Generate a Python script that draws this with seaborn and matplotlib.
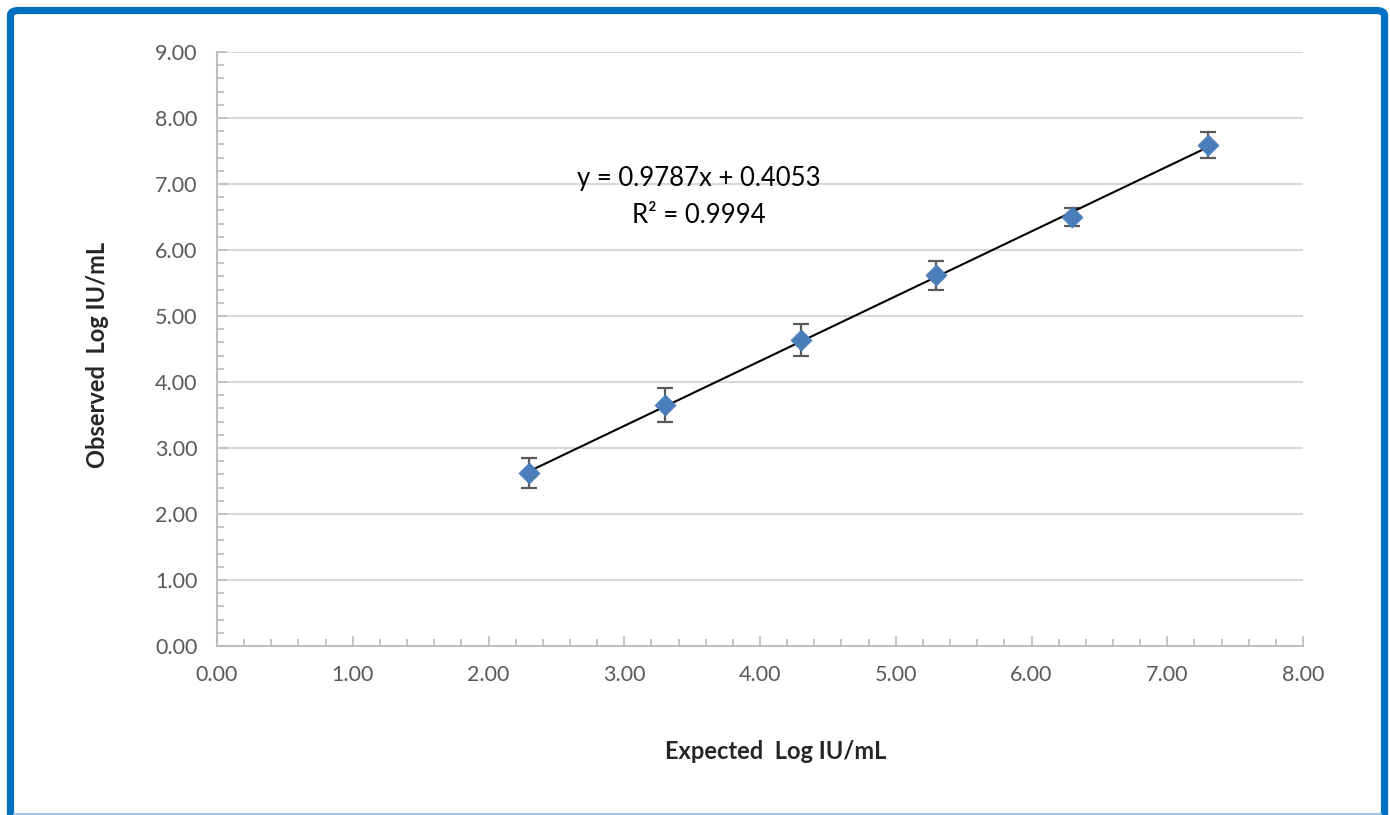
#!/usr/bin/env python3
"""Linearity plot: observed vs expected log IU/mL with trendline."""
import numpy as np
import pandas as pd
import matplotlib
matplotlib.use("Agg")
import matplotlib.pyplot as plt
from matplotlib.patches import FancyBboxPatch
from matplotlib.ticker import MultipleLocator
import seaborn as sns

# data
expected = [2.30, 3.30, 4.30, 5.30, 6.30, 7.30]
observed = [2.62, 3.65, 4.64, 5.62, 6.50, 7.59]
err = [0.23, 0.26, 0.24, 0.22, 0.14, 0.20]
eq_text = "y = 0.9787x + 0.4053"
r2_text = "R² = 0.9994"
x_label = "Expected  Log IU/mL"
y_label = "Observed  Log IU/mL"

sns.set_theme(style="white")
plt.rcParams["font.family"] = ["Lato", "DejaVu Sans"]

df = pd.DataFrame({"expected": expected, "observed": observed, "err": err})

fig = plt.figure(figsize=(13.9, 8.15), dpi=100)
ax = fig.add_axes([217 / 1390, 1 - 646 / 815, (1303 - 217) / 1390, (646 - 52) / 815])

grey = "#595959"
ax.yaxis.grid(True, color="#d9d9d9", linewidth=1.5)
ax.set_axisbelow(True)

# trendline (linear fit over data range)
sns.regplot(data=df, x="expected", y="observed", ax=ax, scatter=False, ci=None,
            line_kws={"color": "black", "linewidth": 1.5, "zorder": 3})

ax.errorbar(df["expected"], df["observed"], yerr=df["err"], fmt="none",
            ecolor=grey, elinewidth=1.6, capsize=6, capthick=1.6, zorder=2)
sns.scatterplot(data=df, x="expected", y="observed", ax=ax, marker="D", s=115,
                color="#4a7ebb", edgecolor="#4a7ebb", linewidth=0.5, zorder=4)

ax.set_xlim(0, 8)
ax.set_ylim(0, 9)
ax.xaxis.set_major_locator(MultipleLocator(1))
ax.yaxis.set_major_locator(MultipleLocator(1))
ax.xaxis.set_minor_locator(MultipleLocator(0.2))
ax.yaxis.set_minor_locator(MultipleLocator(0.2))
ax.xaxis.set_major_formatter(lambda v, p: f"{v:.2f}")
ax.yaxis.set_major_formatter(lambda v, p: f"{v:.2f}")
ax.tick_params(axis="both", which="major", direction="in", length=7, width=1.3,
               color="#bfbfbf", labelsize=15.5, labelcolor=grey, pad=14,
               bottom=True, left=True)
ax.tick_params(axis="both", which="minor", direction="in", length=5, width=1.3,
               color="#bfbfbf", bottom=True, left=True)

for side in ("top", "right"):
    ax.spines[side].set_visible(False)
for side in ("left", "bottom"):
    ax.spines[side].set_color("#bfbfbf")
    ax.spines[side].set_linewidth(1.5)

ax.set_xlabel(x_label, fontsize=17, fontweight="bold", color="#262626")
ax.set_ylabel(y_label, fontsize=17, fontweight="bold", color="#262626")
ax.xaxis.set_label_coords(0.5147, -0.158)
ax.yaxis.set_label_coords(-0.0995, 0.49)

ax.text(3.55, 7.08, eq_text, fontsize=18.5, ha="center", va="center", color="black")
ax.text(3.55, 6.53, r2_text, fontsize=18.5, ha="center", va="center", color="black")

# outer frame like the original chart border
W, H = 1390, 815
frame = FancyBboxPatch((10.5 / W, -20 / H), (1384.5 - 10.5) / W, (H + 20 - 10.5) / H,
                       boxstyle="round,pad=0,rounding_size=0.006",
                       transform=fig.transFigure, fill=False,
                       edgecolor="#0070c0", linewidth=5.2, clip_on=False)
fig.patches.append(frame)
fig.add_artist(plt.Line2D([14 / W, 1381 / W], [1.5 / H, 1.5 / H],
                          transform=fig.transFigure, color="#9dc3e6", linewidth=1.5))

fig.savefig("out.png", dpi=100)
